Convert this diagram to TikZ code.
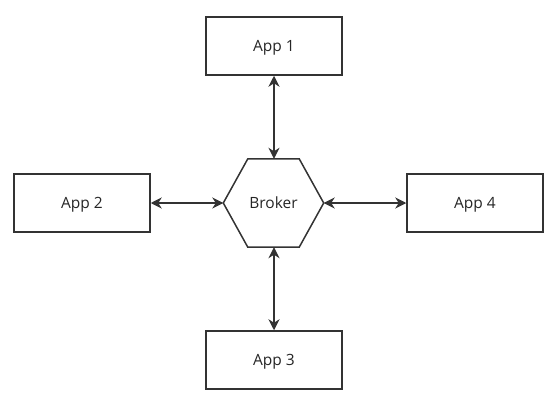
\documentclass[tikz,border=0pt]{standalone}
\usepackage{fontspec}
\setmainfont{Open Sans}
\usetikzlibrary{arrows.meta}

\begin{document}
\begin{tikzpicture}[x=1pt,y=-1pt]
  \useasboundingbox (0,0) rectangle (557,404);
  \tikzset{
    label text/.style={font=\fontsize{15.5pt}{18pt}\selectfont,text=black!85,
      text height=11pt,text depth=0pt},
    appbox/.style={label text,draw=black!80,line width=1.5pt,fill=white,
      minimum width=136pt,minimum height=58pt,inner sep=0pt},
    link/.style={draw=black!80,line width=1.5pt,
      {Stealth[length=11pt,width=11pt,inset=3.5pt]}-{Stealth[length=11pt,width=11pt,inset=3.5pt]}}
  }

  % Draw broker
  \node[label text,minimum width=100pt,minimum height=88pt,inner sep=0pt]
        (broker) at (273.5,203) {Broker};
  \draw[draw=black!80,line width=1.5pt,line join=miter]
        (broker.west) -- ([xshift=24.5pt]broker.north west) --
        ([xshift=-24.5pt]broker.north east) -- (broker.east) --
        ([xshift=-24.5pt]broker.south east) --
        ([xshift=24.5pt]broker.south west) -- cycle;

  % Draw apps
  \node[appbox] (app1) at (274,46)  {App 1};
  \node[appbox] (app2) at (82,203)  {App 2};
  \node[appbox] (app3) at (274,360) {App 3};
  \node[appbox] (app4) at (475,203) {App 4};

  % Draw links
  \draw[link] (app1.south) -- (broker.north -| app1.south);
  \draw[link] (app3.north) -- (broker.south -| app3.north);
  \draw[link] (app2.east) -- (broker.west);
  \draw[link] (app4.west) -- (broker.east);
\end{tikzpicture}
\end{document}
